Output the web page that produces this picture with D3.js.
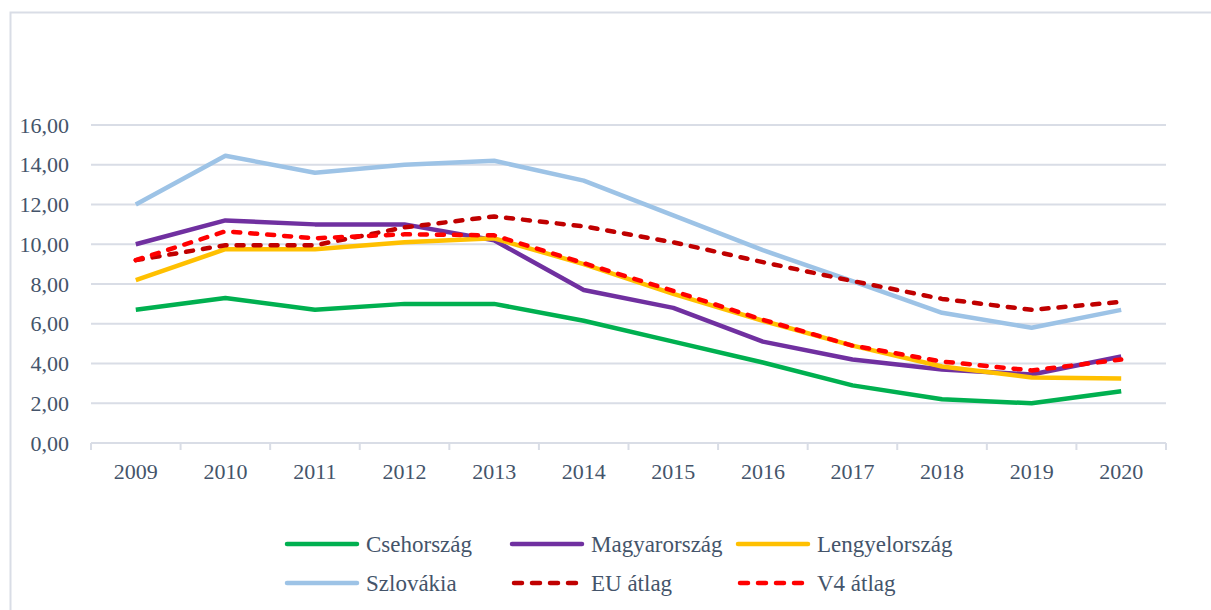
<!DOCTYPE html>
<html><head><meta charset="utf-8">
<script src="https://cdn.jsdelivr.net/npm/d3@7"></script>
<style>html,body{margin:0;padding:0;background:#fff;overflow:hidden}</style>
</head><body>
<svg id="c" width="1211" height="610"></svg>
<script>
const years = ["2009","2010","2011","2012","2013","2014","2015","2016","2017","2018","2019","2020"];
const cseh   = [6.7, 7.3, 6.7, 7.0, 7.0, 6.15, 5.1, 4.05, 2.9, 2.2, 2.0, 2.6];
const magyar = [10.0, 11.2, 11.0, 11.0, 10.2, 7.7, 6.8, 5.1, 4.2, 3.7, 3.45, 4.35];
const lengyel= [8.2, 9.75, 9.75, 10.1, 10.3, 9.0, 7.5, 6.15, 4.9, 3.85, 3.3, 3.25];
const szlov  = [12.0, 14.45, 13.6, 14.0, 14.2, 13.2, 11.45, 9.7, 8.15, 6.55, 5.8, 6.7];
const eu     = [9.2, 9.95, 9.95, 10.85, 11.4, 10.9, 10.1, 9.1, 8.15, 7.25, 6.7, 7.1];
const v4     = [9.2, 10.65, 10.3, 10.5, 10.45, 9.05, 7.65, 6.2, 4.9, 4.1, 3.65, 4.2];
const yTicks = [0,2,4,6,8,10,12,14,16];
const seriesNames = ["Csehország","Magyarország","Lengyelország","Szlovákia","EU átlag","V4 átlag"];

const series = [
  {name: seriesNames[0], values: cseh,    color: "#00b050", dash: null},
  {name: seriesNames[1], values: magyar,  color: "#7030a0", dash: null},
  {name: seriesNames[2], values: lengyel, color: "#ffc000", dash: null},
  {name: seriesNames[3], values: szlov,   color: "#9dc3e6", dash: null},
  {name: seriesNames[4], values: eu,      color: "#c00000", dash: "7,10"},
  {name: seriesNames[5], values: v4,      color: "#ff0000", dash: "7,10"}
];

const svg = d3.select("#c");
const font = "'Liberation Serif','Times New Roman',serif";
const textColor = "#44546a";
const gridColor = "#d9dde6";

svg.append("rect").attr("x",10.5).attr("y",12.5).attr("width",1400).attr("height",800)
  .attr("fill","none").attr("stroke",gridColor).attr("stroke-width",2);

const x = d3.scaleBand().domain(years).range([91,1166]);
const y = d3.scaleLinear().domain([0,16]).range([443,125]);

// gridlines
svg.append("g").selectAll("line").data(yTicks.filter(d=>d>0)).join("line")
  .attr("x1",91).attr("x2",1166).attr("y1",d=>y(d)).attr("y2",d=>y(d))
  .attr("stroke",gridColor).attr("stroke-width",2);

// y labels
svg.append("g").selectAll("text").data(yTicks).join("text")
  .attr("x",69).attr("y",d=>y(d)).attr("dy","0.35em").attr("text-anchor","end")
  .attr("font-family",font).attr("font-size",22).attr("fill",textColor)
  .text(d=>d3.format(".2f")(d).replace(".",","));

// x axis
const xAxis = svg.append("g").attr("transform","translate(0,443)");
xAxis.append("line").attr("x1",91).attr("x2",1166).attr("stroke",gridColor).attr("stroke-width",2);
const bounds = years.map(d=>x(d)).concat([x.range()[1]]);
xAxis.selectAll("line.t").data(bounds).join("line").attr("class","t")
  .attr("x1",d=>d).attr("x2",d=>d).attr("y1",0).attr("y2",7)
  .attr("stroke",gridColor).attr("stroke-width",2);
xAxis.selectAll("text").data(years).join("text")
  .attr("x",d=>x(d)+x.bandwidth()/2).attr("y",36).attr("text-anchor","middle")
  .attr("font-family",font).attr("font-size",22).attr("fill",textColor).text(d=>d);

// lines
const line = d3.line().x((d,i)=>x(years[i])+x.bandwidth()/2).y(d=>y(d));
svg.append("g").selectAll("path").data(series).join("path")
  .attr("d",d=>line(d.values)).attr("fill","none").attr("stroke",d=>d.color)
  .attr("stroke-width",4.5).attr("stroke-linejoin","round")
  .attr("stroke-linecap",d=>d.dash?"round":"butt")
  .attr("stroke-dasharray",d=>d.dash);

// legend
const legX = [287,512,738], legY = [544,583];
const leg = svg.append("g").selectAll("g").data(series).join("g")
  .attr("transform",(d,i)=>`translate(${legX[i%3]},${legY[Math.floor(i/3)]})`);
leg.append("line").attr("x1",d=>d.dash?2:0).attr("x2",70).attr("y1",0).attr("y2",0)
  .attr("stroke",d=>d.color).attr("stroke-width",4.5)
  .attr("stroke-linecap","round").attr("stroke-dasharray",d=>d.dash?"8,10":null);
leg.append("text").attr("x",79).attr("y",0).attr("dy","0.35em")
  .attr("font-family",font).attr("font-size",23).attr("fill",textColor).text(d=>d.name);
</script>
</body></html>
